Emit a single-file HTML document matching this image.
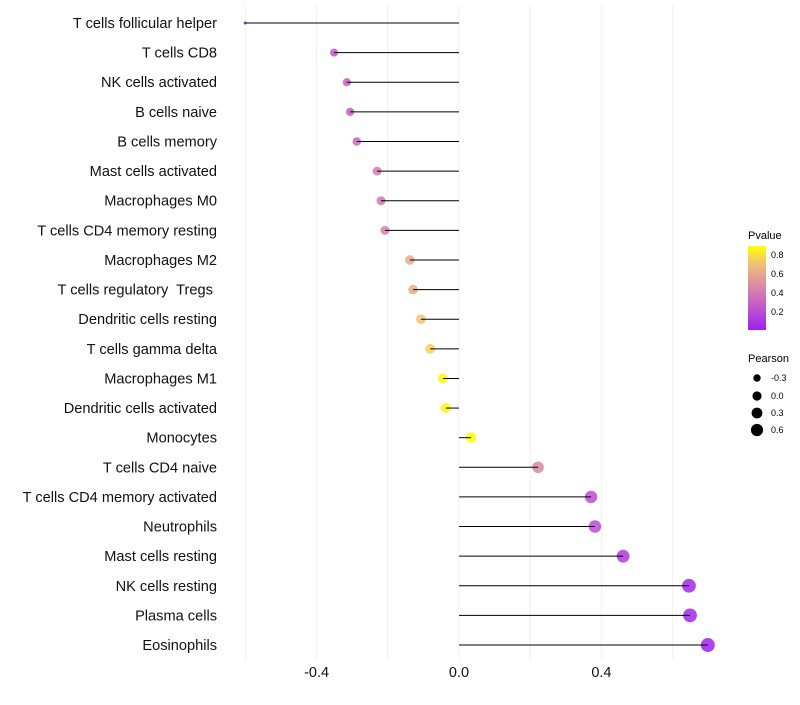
<!DOCTYPE html>
<html><head><meta charset="utf-8"><style>
body{margin:0;background:#fff;font-family:"Liberation Sans",sans-serif}
</style></head><body>
<svg id="chart" width="800" height="700" xmlns="http://www.w3.org/2000/svg" font-family="Liberation Sans, sans-serif">
<defs><linearGradient id="pg" x1="0" y1="1" x2="0" y2="0">
<stop offset="0" stop-color="#a020f0"/><stop offset="0.3" stop-color="#c55cc8"/><stop offset="0.55" stop-color="#de8fa0"/><stop offset="0.8" stop-color="#f3c372"/><stop offset="1" stop-color="#ffff00"/></linearGradient></defs>
<g id="grid"></g><g id="marks"></g><g id="labels"></g>
<g>
<text x="748" y="239" font-size="11">Pvalue</text>
<rect x="748" y="246" width="18" height="84" fill="url(#pg)"/>
<g font-size="9"><text x="771" y="258">0.8</text><text x="771" y="277">0.6</text><text x="771" y="296">0.4</text><text x="771" y="315">0.2</text></g>
</g>
<g>
<text x="748" y="362" font-size="11">Pearson</text>
<circle cx="757" cy="378" r="3.7"/><circle cx="757" cy="396" r="4.6"/><circle cx="757" cy="413" r="5.4"/><circle cx="757" cy="430" r="6.1"/>
<g font-size="9"><text x="771" y="381">-0.3</text><text x="771" y="399">0.0</text><text x="771" y="416">0.3</text><text x="771" y="433">0.6</text></g>
</g>
</svg>
<script>
const categories=["T cells follicular helper","T cells CD8","NK cells activated","B cells naive","B cells memory","Mast cells activated","Macrophages M0","T cells CD4 memory resting","Macrophages M2","T cells regulatory  Tregs ","Dendritic cells resting","T cells gamma delta","Macrophages M1","Dendritic cells activated","Monocytes","T cells CD4 naive","T cells CD4 memory activated","Neutrophils","Mast cells resting","NK cells resting","Plasma cells","Eosinophils"];
const pearson=[-0.601,-0.351,-0.315,-0.306,-0.287,-0.230,-0.219,-0.208,-0.138,-0.129,-0.107,-0.081,-0.045,-0.037,0.034,0.222,0.371,0.382,0.461,0.646,0.649,0.699];
const pvalues=[0.02,0.25,0.28,0.28,0.3,0.4,0.38,0.42,0.6,0.62,0.7,0.75,0.88,0.88,0.89,0.45,0.2,0.2,0.12,0.03,0.03,0.02];
const ticks=[-0.4,0.0,0.4];
const ns="http://www.w3.org/2000/svg";
const X=v=>459+v*356, Y=i=>23+i*29.62;
const R=v=>{const a=v>=-0.35?16+(v+0.35)*31.4:16+(v+0.35)*55;return Math.sqrt(Math.max(2.25,a));};
const stops=[[0.01,[160,32,240]],[0.27,[197,92,200]],[0.49,[222,143,160]],[0.71,[243,195,114]],[0.9,[255,255,0]]];
function col(p){p=Math.max(0.01,Math.min(0.9,p));for(let k=0;k<stops.length-1;k++){const[a,c1]=stops[k],[b,c2]=stops[k+1];if(p<=b){const t=(p-a)/(b-a);return`rgb(${c1.map((c,j)=>Math.round(c+(c2[j]-c)*t)).join(",")})`;}}return"rgb(255,255,0)";}
function mk(t,a,p){const e=document.createElementNS(ns,t);for(const k in a)e.setAttribute(k,a[k]);p.appendChild(e);return e;}
const grid=document.getElementById('grid'),marks=document.getElementById('marks'),labels=document.getElementById('labels');
[-0.6,-0.4,-0.2,0,0.2,0.4,0.6].forEach(v=>{const l=mk('line',{x1:X(v),x2:X(v),y1:5,y2:660,stroke:'#f0f0f0','stroke-width':1},grid);

});
ticks.forEach(v=>{const t=mk('text',{x:X(v),y:677,'text-anchor':'middle','font-size':14.5,fill:'#111'},labels);t.textContent=v.toFixed(1);

});
categories.forEach((c,i)=>{const y=Y(i),v=pearson[i];
const dot=mk('circle',{cx:X(v),cy:y,r:R(v),fill:col(pvalues[i]),'fill-opacity':0.85},marks);


const ln=mk('line',{x1:X(0),x2:X(v),y1:y,y2:y,stroke:'#000','stroke-width':1},marks);


const t=mk('text',{x:217,y:y+5,'text-anchor':'end','font-size':14.6,fill:'#111'},labels);t.textContent=c;


t.setAttribute('xml:space','preserve');t.style.whiteSpace='pre';});
</script>
</body></html>
